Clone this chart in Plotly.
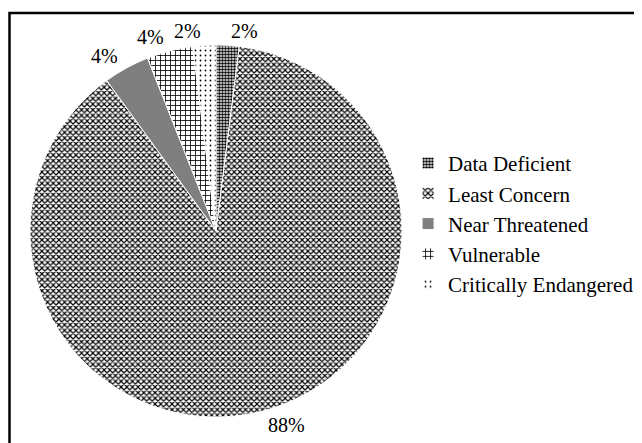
import math
import plotly.graph_objects as go

categories = ["Data Deficient", "Least Concern", "Near Threatened", "Vulnerable", "Critically Endangered"]
values = [1, 44, 2, 2, 1]

patterns = dict(
    shape=[".", "x", "", "+", "."],
    fgcolor=["#000000"] * 5,
    bgcolor=["#ffffff"] * 5,
    size=[3, 4, 3, 5, 5],
    solidity=[0.6, 0.5, 0.5, 0.3, 0.1],
)
colors = ["#ffffff", "#ffffff", "#7f7f7f", "#ffffff", "#ffffff"]

W, H = 634, 435            # visible area (page has 8px body margin)
cx, cy, r = 208, 212, 186  # pie centre (from left / from bottom) and radius, px

fig = go.Figure(go.Pie(
    labels=categories,
    values=values,
    sort=False,
    direction="clockwise",
    rotation=0,
    textinfo="none",
    marker=dict(colors=colors, pattern=patterns, line=dict(color="#ffffff", width=1)),
    domain=dict(x=[(cx - r) / W, (cx + r) / W], y=[(cy - r) / H, (cy + r) / H]),
    showlegend=True,
))

# percentage labels placed just outside each slice's mid-angle
total = sum(values)
annotations = []
cum = 0
for v in values:
    theta = 2 * math.pi * (cum + v / 2) / total
    cum += v
    R = r + 14
    annotations.append(dict(
        x=(cx + R * math.sin(theta)) / W, y=(cy + R * math.cos(theta)) / H,
        xref="paper", yref="paper", showarrow=False,
        text=f"{round(100 * v / total)}%",
        font=dict(family="Liberation Serif", size=20, color="#000000"),
        xanchor="left" if math.sin(theta) > 0 else "right", yanchor="middle",
    ))

fig.update_layout(
    width=W, height=H,
    margin=dict(l=0, r=0, t=0, b=0),
    paper_bgcolor="#ffffff",
    plot_bgcolor="#ffffff",
    font=dict(family="Liberation Serif", size=20, color="#000000"),
    legend=dict(x=0.631, y=0.690, xanchor="left", yanchor="top",
                font=dict(family="Liberation Serif", size=21, color="#000000"),
                itemwidth=30),
    annotations=annotations,
    shapes=[dict(type="rect", xref="paper", yref="paper",
                 x0=1.5 / W, y0=-0.05, x1=1.05, y1=1 - 5 / H,
                 line=dict(color="#000000", width=2.5))],
)

fig.write_html("out.html")
